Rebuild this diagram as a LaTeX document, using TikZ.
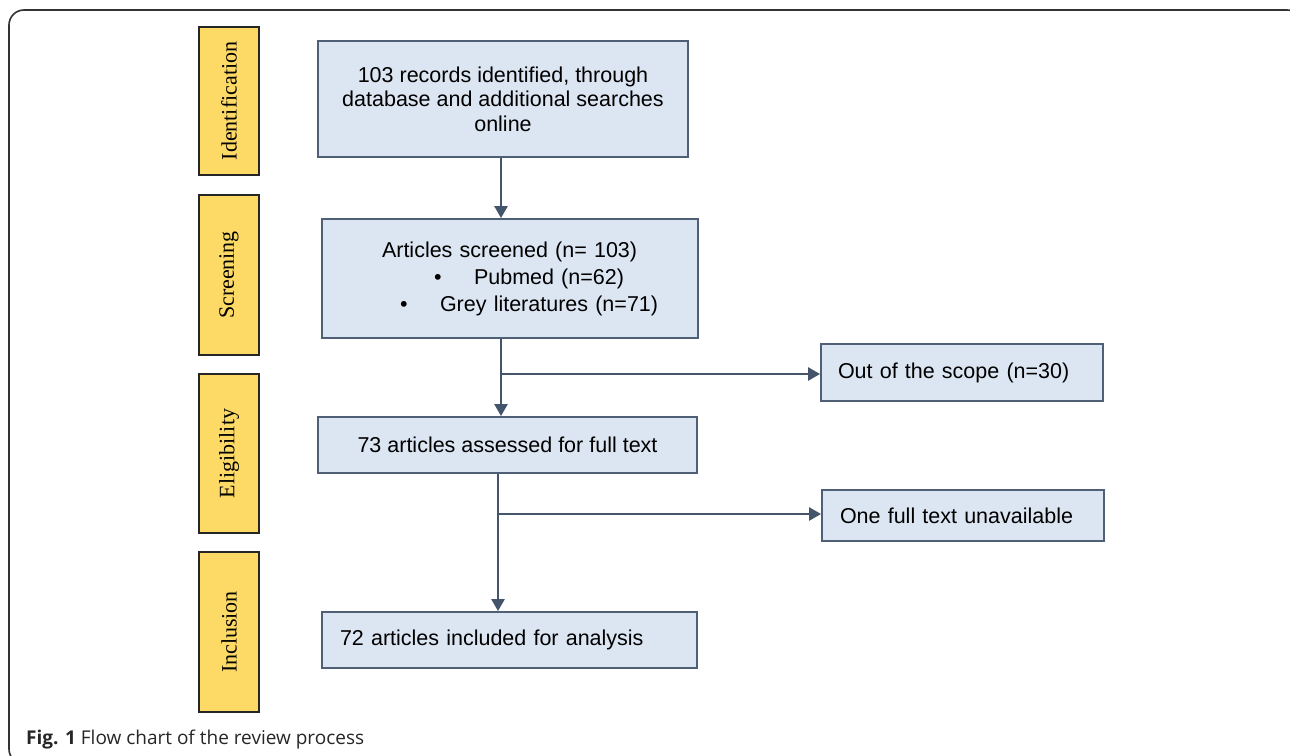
\documentclass[tikz,border=0pt]{standalone}
\usepackage{fontspec}
\setmainfont{Liberation Sans}
\newfontfamily\stagefont{Liberation Serif}
\newfontfamily\capfont{Open Sans}
\usetikzlibrary{arrows.meta}

\definecolor{boxfill}{HTML}{DCE6F2}
\definecolor{boxline}{HTML}{4F5F75}
\definecolor{flowline}{HTML}{44546A}
\definecolor{stagefill}{HTML}{FDD966}

\tikzset{
  stage/.style={draw=black!85,line width=1.6pt,fill=stagefill,minimum width=60pt,
    inner sep=0pt,font=\stagefont\fontsize{22}{26}\selectfont},
  procbox/.style={draw=boxline,line width=1.8pt,fill=boxfill,inner sep=0pt,
    font=\fontsize{21.5}{24.5}\selectfont,align=center},
  flow/.style={draw=flowline,line width=2.4pt,-{Triangle[length=12pt,width=13pt]}},
}

\begin{document}
\begin{tikzpicture}[x=1pt,y=-1pt]

\useasboundingbox (0,0) rectangle (1290,755);
\draw[black!80,line width=1.6pt,rounded corners=15pt] (9,10) rectangle (1302,764);

% stages on the left
\foreach \name/\y/\h/\lab in {ident/101/148/Identification,screen/275/160/Screening,
                               elig/453.5/159/Eligibility,incl/632/160/Inclusion}{
    \node[stage,minimum height=\h pt] (\name) at (229,\y) {\rotatebox{90}{\lab}};
}

% main column
\node[procbox,minimum width=370pt,minimum height=116pt] (rec) at (503,99)
    {103 records identified, through\\database and additional searches\\online};
\node[procbox,minimum width=376pt,minimum height=119pt,text width=376pt,align=left,
      font=\fontsize{21.5}{27}\selectfont] (art) at (510,278.5)
    {\hspace*{60pt}Articles screened (n= 103)\\
     \hspace*{112pt}\textbullet\hspace{32.5pt}Pubmed (n=62)\\
     \hspace*{78pt}\textbullet\hspace{32.5pt}Grey literatures (n=71)};
\node[procbox,minimum width=379pt,minimum height=56pt] (full) at (507.5,445)
    {73 articles assessed for full text};
\node[procbox,minimum height=56pt,inner xsep=18pt,text width=339pt,align=left] (incd) at (509.5,640)
    {72 articles included for analysis};

% excluded
\node[procbox,minimum height=57pt,inner xsep=17pt,text width=248pt,align=left] (scope) at (962,372.5)
    {Out of the scope (n=30)};
\node[procbox,minimum height=51pt,inner xsep=18pt,text width=246pt,align=left] (unav) at (963,515.5)
    {One full text unavailable};

\coordinate (j1) at (501,374);
\coordinate (j2) at (498,514);

\draw[flow] (rec.south -| j1) -- (art.north -| j1);
\draw[flow] (art.south -| j1) -- (full.north -| j1);
\draw[flow] (j1) -- (scope.west |- j1);
\draw[flow] (full.south -| j2) -- (incd.north -| j2);
\draw[flow] (j2) -- (unav.west |- j2);

\node[anchor=base west,inner sep=0pt,text=black!85,
      font=\capfont\fontsize{19}{23}\selectfont] (cap) at (26,744)
    {\textbf{Fig. 1} Flow chart of the review process};

\end{tikzpicture}
\end{document}
